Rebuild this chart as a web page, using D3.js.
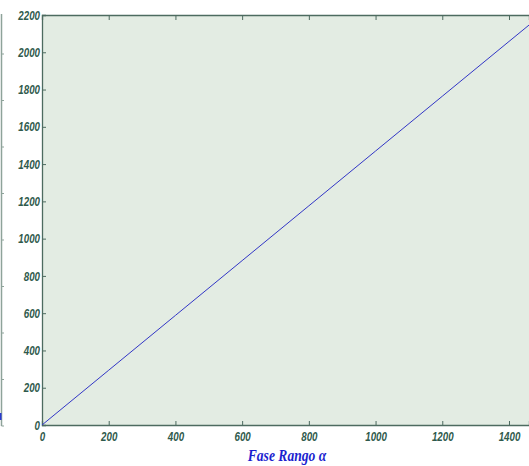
<!DOCTYPE html>
<html>
<head>
<meta charset="utf-8">
<script src="https://cdn.jsdelivr.net/npm/d3@7"></script>
<style>
  html, body { margin: 0; padding: 0; background: #ffffff; }
  svg { display: block; }
  .tick-label { font-family: "Liberation Sans", Arial, sans-serif; font-weight: bold; font-style: italic; font-size: 13px; fill: #2f5a4c; }
</style>
</head>
<body>
<svg id="chart" width="529" height="466"></svg>
<script>
// Phase range (x) against the resulting response (y): a straight line through the origin
const phaseRange = [0, 200, 400, 600, 800, 1000, 1200, 1400, 1460];
const response   = [0, 294, 588, 882, 1176, 1470, 1764, 2058, 2146];

const xTicks = [0, 200, 400, 600, 800, 1000, 1200, 1400];
const yTicks = [0, 200, 400, 600, 800, 1000, 1200, 1400, 1600, 1800, 2000, 2200];

const xDomain = [0, 1460];
const yDomain = [0, 2200];

const svg = d3.select("#chart");
const margin = { left: 42, top: 15, right: 0, bottom: 41 };
const W = 529, H = 466;
const axisColor = "#4d6b60";
const squeeze = 0.75; // condensed look for the tick numerals

const x = d3.scaleLinear().domain(xDomain).range([margin.left, W - margin.right]);
const y = d3.scaleLinear().domain(yDomain).range([H - margin.bottom, margin.top]);

// neighbouring panel's axis peeking in at the far left edge
const stub = svg.append("g");
stub.append("line").attr("x1", 1.5).attr("x2", 1.5).attr("y1", 14).attr("y2", 426)
  .attr("stroke", "#8ea39a").attr("stroke-width", 1.5);
d3.range(0, 9).forEach(i => {
  const yy = 426 - i * 46.5;
  stub.append("line").attr("x1", 1.5).attr("x2", 4).attr("y1", yy).attr("y2", yy)
    .attr("stroke", "#8ea39a").attr("stroke-width", 1);
});
stub.append("line").attr("x1", 0.5).attr("x2", 0.5).attr("y1", 413).attr("y2", 420)
  .attr("stroke", "#2a3ad0").attr("stroke-width", 2);

// plot background
svg.append("rect")
  .attr("x", x(xDomain[0])).attr("y", y(yDomain[1]))
  .attr("width", x(xDomain[1]) - x(xDomain[0]))
  .attr("height", y(yDomain[0]) - y(yDomain[1]))
  .attr("fill", "#e3ece3");

// axes
const xAxis = d3.axisBottom(x).tickValues(xTicks).tickSize(-4).tickPadding(7).tickFormat(d3.format("d"));
const xTop = d3.axisTop(x).tickValues(xTicks).tickSize(-5).tickFormat("");
const yAxis = d3.axisLeft(y).tickValues(yTicks).tickSize(-4).tickPadding(2).tickFormat(d3.format("d"));

function styleAxis(g) {
  g.select(".domain").attr("stroke", axisColor).attr("stroke-width", 1.3);
  g.selectAll(".tick line").attr("stroke", axisColor).attr("stroke-width", 1);
  g.selectAll(".tick text")
    .attr("class", "tick-label").attr("fill", null)
    .attr("x", function () { return (+this.getAttribute("x") || 0) / squeeze; })
    .attr("transform", `scale(${squeeze},1)`);
  g.attr("font-family", null).attr("font-size", null);
}

svg.append("g").attr("transform", `translate(0,${y(yDomain[0])})`).call(xAxis).call(styleAxis);
svg.append("g").attr("transform", `translate(0,${y(yDomain[1])})`).call(xTop).call(styleAxis);
svg.append("g").attr("transform", `translate(${x(xDomain[0])},0)`).call(yAxis).call(styleAxis);

// data line
const line = d3.line().x((d, i) => x(phaseRange[i])).y(d => y(d));
svg.append("path")
  .datum(response)
  .attr("d", line)
  .attr("fill", "none")
  .attr("stroke", "#3236c6")
  .attr("stroke-width", 1);

// x axis title
svg.append("text")
  .attr("transform", "translate(287,461) scale(0.8,1)")
  .attr("text-anchor", "middle")
  .attr("font-family", "'Liberation Serif', 'DejaVu Serif', serif")
  .attr("font-weight", "bold").attr("font-style", "italic")
  .attr("font-size", 17)
  .attr("fill", "#1b1fcf")
  .text("Fase Rango α");
</script>
</body>
</html>
